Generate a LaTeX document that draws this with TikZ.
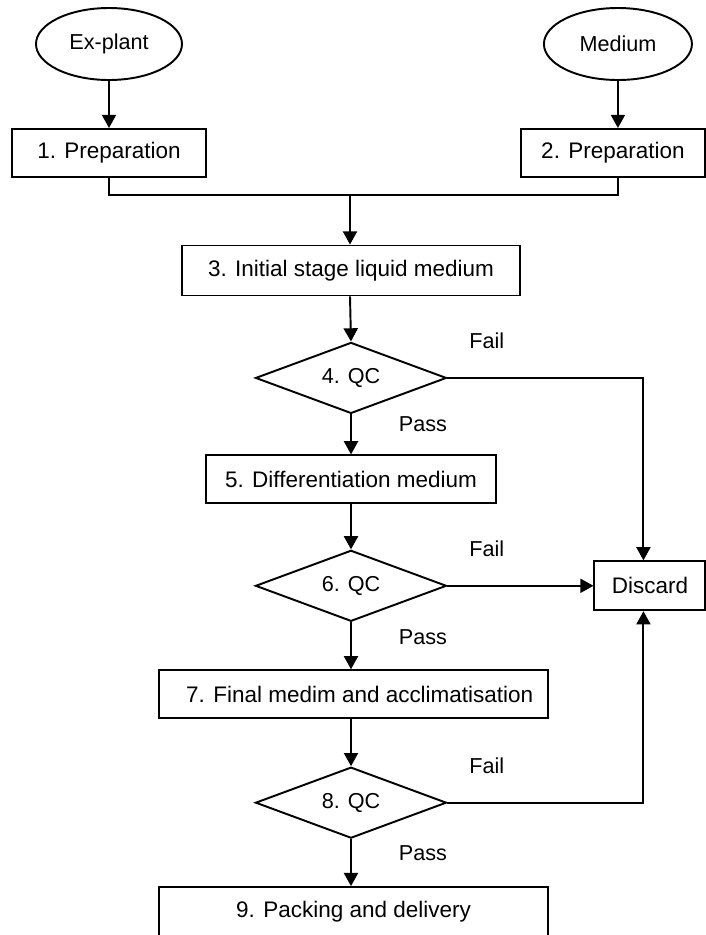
\documentclass[tikz,border=0pt]{standalone}
\usepackage{fontspec}
\setmainfont{Liberation Sans}
\usetikzlibrary{shapes, arrows.meta, positioning, calc}

\begin{document}
\begin{tikzpicture}[
		>={Triangle[length=7.5pt, width=8pt]},
		font=\fontsize{12.3}{14}\selectfont,
		source/.style={draw, ellipse, line width=1.1pt, minimum width=2.92cm, minimum height=1.44cm, inner sep=0pt},
		stage/.style={draw, line width=1.1pt, minimum height=0.96cm, align=center, font=\fontsize{12.8}{15}\selectfont},
		qc/.style={draw, diamond, aspect=2.65, line width=1.1pt, minimum width=3.82cm, minimum height=1.42cm, inner sep=0pt},
		line/.style={line width=1.1pt},
		arr/.style={->, line width=1.1pt},
		lbl/.style={inner sep=0pt},
	]
		\useasboundingbox (0,0) rectangle (14.1,-18.7);

		% Inputs
		\node[source] (explant) at (2.18,-0.88) {Ex-plant};
		\node[source, right=7.2cm of explant, minimum width=2.96cm] (medium) {Medium};

		% Preparation steps
		\node[stage, below=0.94cm of explant, minimum width=3.88cm] (prep1) {1. Preparation};
		\node[stage, below=0.94cm of medium, xshift=-0.1cm, minimum width=3.68cm] (prep2) {2. Preparation};

		% Main column
		\node[stage, minimum width=6.76cm, minimum height=1.0cm] (init) at (7.02,-5.41) {3. Initial stage liquid medium};
		\node[qc, below=0.9cm of init] (qc4) {4. QC};
		\node[stage, below=0.8cm of qc4, minimum width=5.8cm] (diff) {5. Differentiation medium};
		\node[qc, below=0.9cm of diff] (qc6) {6. QC};
		\node[stage, below=0.94cm of qc6, minimum width=7.78cm, xshift=0.05cm] (final) {\hspace*{0.25cm}7. Final medim and acclimatisation};
		\node[qc, below=0.94cm of final, xshift=-0.05cm] (qc8) {8. QC};
		\node[stage, below=0.94cm of qc8, minimum width=7.78cm, minimum height=1.2cm, xshift=0.05cm, text depth=9pt] (pack) {9. Packing and delivery};

		% Reject box
		\node[stage, right=2.92cm of qc6, minimum width=2.22cm, minimum height=0.98cm] (discard) {Discard};
		\coordinate (drop) at ([xshift=-0.13cm]discard.north);
		\coordinate (rise) at ([xshift=-0.13cm]discard.south);

		% Inputs into preparation
		\draw[arr] (explant.south) -- (explant.south |- prep1.north);
		\draw[arr] (medium.south) -- (medium.south |- prep2.north);

		% Both preparations merge into step 3
		\coordinate (merge) at (7.0,-3.9);
		\draw[line] (prep1.south) |- (merge) -| (medium.south |- prep2.south);
		\draw[arr] (merge) -- (merge |- init.north);

		% Pass path
		\draw[arr] (init.south -| merge) -- (qc4.north);
		\draw[arr] (qc4.south) -- node[lbl, right=0.94cm, pos=0.25] {Pass} (qc4.south |- diff.north);
		\draw[arr] (diff.south) -- (qc6.north);
		\draw[arr] (qc6.south) -- node[lbl, right=0.94cm, pos=0.32] {Pass} (qc6.south |- final.north);
		\draw[arr] (qc8.north |- final.south) -- (qc8.north);
		\draw[arr] (qc8.south) -- node[lbl, right=0.94cm, pos=0.3] {Pass} (qc8.south |- pack.north);

		% Fail paths
		\draw[arr] (qc4.east) -- node[lbl, pos=0, above right=0.56cm and 0.42cm] {Fail} (qc4.east -| drop) -- (drop);
		\draw[arr] (qc6.east) -- node[lbl, pos=0, above right=0.56cm and 0.42cm] {Fail} (discard.west);
		\draw[arr] (qc8.east) -- node[lbl, pos=0, above right=0.56cm and 0.42cm] {Fail} (qc8.east -| rise) -- (rise);
	\end{tikzpicture}
\end{document}
